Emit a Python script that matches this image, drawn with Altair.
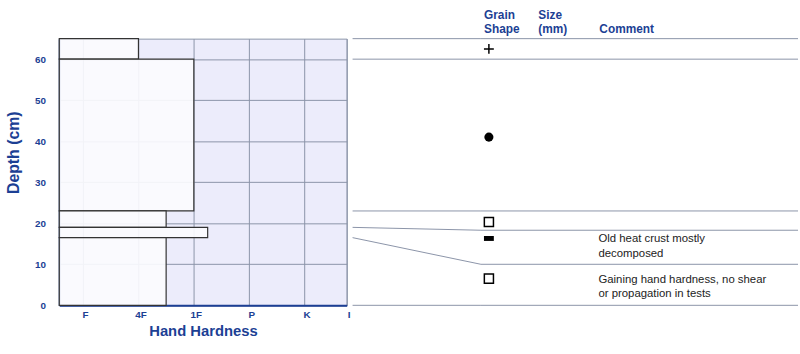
import altair as alt
import pandas as pd

# ---------------- data ----------------
hard_labels = ["F", "4F", "1F", "P", "K", "I"]
hard_values = [1, 2, 3, 4, 5, 5.76]

layer_top = [65, 60, 23, 19, 16.5]
layer_bottom = [60, 23, 19, 16.5, 0]
layer_hardness = [2, 3, 2.5, 3.25, 2.5]

boundary_true = [65, 60, 23, 19, 16.5, 0]
boundary_display = [65, 60, 23, 18.3, 10, 0]

grain_depth = [62.5, 41, 20.3, 16.3, 6.5]
grain_kind = ["plus", "dot", "open", "crust", "open"]

comment_depth = [16.3, 6.5]
comment_text = ["Old heat crust mostly\ndecomposed",
                "Gaining hand hardness, no shear\nor propagation in tests"]

header_text = ["Grain\nShape", "Size\n(mm)", "\nComment"]

# column positions in the right panel (0-100 units)
COL_BREAK = 28.8
COL_GRAIN = 30.6
COL_COMMENT = 55.2
header_x = [29.5, 41.7, 55.4]

BLUE = "#1c3f94"
GRID = "#8a93a8"
FONT = "Liberation Sans"

layers_df = pd.DataFrame({"top": layer_top, "bottom": layer_bottom,
                          "hardness": layer_hardness})

rows = []
for i, (t, d) in enumerate(zip(boundary_true, boundary_display)):
    rows.append({"id": i, "ord": 0, "x": 0, "depth": t})
    rows.append({"id": i, "ord": 1, "x": COL_BREAK, "depth": d})
    rows.append({"id": i, "ord": 2, "x": 100, "depth": d})
lines_df = pd.DataFrame(rows)

shape_paths = {
    "plus": "M-1,0L1,0M0,-1L0,1",
    "dot": "circle",
    "open": "square",
    "crust": "M-1,-0.5L1,-0.5L1,0.5L-1,0.5Z",
}
shape_filled = {"plus": False, "dot": True, "open": False, "crust": True}
shape_size = {"plus": 100, "dot": 85, "open": 85, "crust": 100}
grain_df = pd.DataFrame({
    "depth": grain_depth,
    "shape": [shape_paths[k] for k in grain_kind],
    "filled": [shape_filled[k] for k in grain_kind],
    "size": [shape_size[k] for k in grain_kind],
    "x": [COL_GRAIN] * len(grain_kind),
})
comments_df = pd.DataFrame({"depth": comment_depth, "text": comment_text,
                            "x": [COL_COMMENT] * len(comment_depth)})
headers_df = pd.DataFrame({"text": header_text, "x": header_x})

yscale = alt.Scale(domain=[0, 65], nice=False, zero=False)
label_expr = "[" + ",".join(f"'{l}'" for l in hard_labels) + "][indexof([" + \
    ",".join(str(v) for v in hard_values) + "], datum.value)]"

# ---------------- left panel ----------------
bars = alt.Chart(layers_df).mark_rect(
    fill="#fbfbfe", fillOpacity=0.92, stroke="#333333", strokeWidth=1.2
).encode(
    x=alt.X("hardness:Q",
            scale=alt.Scale(domain=[0.57, 5.76], nice=False, zero=False),
            axis=alt.Axis(values=hard_values, labelExpr=label_expr, ticks=False,
                          grid=True, gridColor=GRID, gridWidth=1,
                          domainColor=BLUE, domainWidth=2,
                          labelFont=FONT, labelFontWeight="bold", labelColor=BLUE,
                          labelFontSize=10, labelPadding=4, labelFlush=False,
                          labelOffset=2,
                          title="Hand Hardness", titleFont=FONT, titleFontSize=15,
                          titleFontWeight="bold", titleColor=BLUE, titlePadding=5)),
    x2=alt.value(0),
    y=alt.Y("top:Q", scale=yscale,
            axis=alt.Axis(values=[0, 10, 20, 30, 40, 50, 60], ticks=False,
                          grid=True, gridColor=GRID, gridWidth=1,
                          domainColor=BLUE, domainWidth=2,
                          labelFont=FONT, labelFontWeight="bold", labelColor=BLUE,
                          labelFontSize=10, labelPadding=14,
                          title="Depth (cm)", titleFont=FONT, titleFontSize=16,
                          titleFontWeight="bold", titleColor=BLUE, titlePadding=13,
                          titleY=115)),
    y2="bottom:Q",
)

left = alt.layer(bars).properties(
    width=291, height=270,
    view=alt.ViewConfig(fill="#ececfb", stroke=GRID, strokeWidth=1),
)

# ---------------- right panel ----------------
xr = alt.X("x:Q", scale=alt.Scale(domain=[0, 100], nice=False), axis=None)
yr = alt.Y("depth:Q", scale=yscale, axis=None)

leaders = alt.Chart(lines_df).mark_line(color=GRID, strokeWidth=1).encode(
    x=xr, y=yr, detail="id:N", order="ord:Q")

open_sym = alt.Chart(grain_df).transform_filter("!datum.filled").mark_point(
    filled=False, stroke="black", strokeWidth=1.5, opacity=1
).encode(x=xr, y=yr, shape=alt.Shape("shape:N", scale=None, legend=None),
         size=alt.Size("size:Q", scale=None, legend=None))

fill_sym = alt.Chart(grain_df).transform_filter("datum.filled").mark_point(
    filled=True, fill="black", strokeWidth=0, opacity=1
).encode(x=xr, y=yr, shape=alt.Shape("shape:N", scale=None, legend=None),
         size=alt.Size("size:Q", scale=None, legend=None))

comments = alt.Chart(comments_df).mark_text(
    align="left", baseline="alphabetic", dy=4, font=FONT, fontSize=11.5,
    color="#222222", lineBreak="\n", lineHeight=15
).encode(x=xr, y=yr, text="text:N")

headers = alt.Chart(headers_df).mark_text(
    align="left", baseline="alphabetic", font=FONT, fontSize=12,
    fontWeight="bold", color=BLUE, lineBreak="\n", lineHeight=14
).encode(x=xr, y=alt.value(-20), text="text:N")

right = alt.layer(leaders, open_sym, fill_sym, comments, headers).properties(
    width=451, height=270,
    view=alt.ViewConfig(fill="white", strokeWidth=0),
)

chart = alt.hconcat(left, right, spacing=0).properties(
    padding={"left": 5, "top": 7, "right": 0, "bottom": 0},
    background="white",
)

chart.save("out.html", embed_options={"renderer": "svg", "actions": False})
